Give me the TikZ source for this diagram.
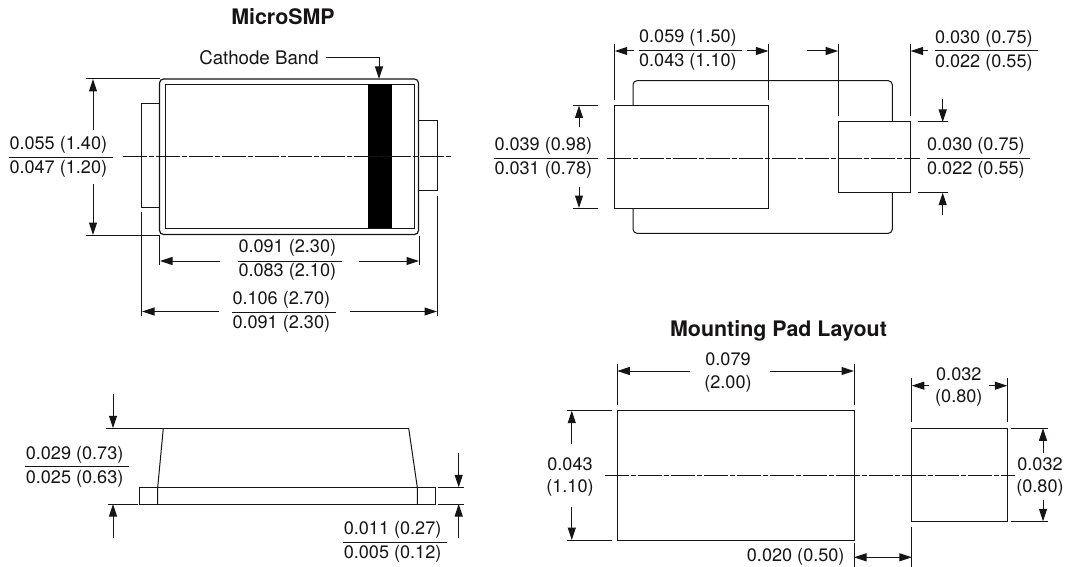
\documentclass[tikz,border=0pt]{standalone}
\usepackage{fontspec}
\setmainfont{TeX Gyre Heros}
\usetikzlibrary{arrows.meta}
\definecolor{ink}{RGB}{22,20,20}

\begin{document}
\begin{tikzpicture}[x=1pt,y=-1pt,ink,line width=1pt,>={Triangle[length=12.5pt,width=8pt]},
    dim node/.style={inner sep=0pt,font=\fontsize{18.1}{20}\selectfont},
    frac node/.style={dim node,anchor=west},
    title node/.style={inner sep=0pt,font=\fontsize{21.4}{24}\bfseries\selectfont},
    center line/.style={line width=1pt,dash pattern=on 24pt off 2pt on 5pt off 2pt}]
    \useasboundingbox (0,0) rectangle (1065,567);

    \node[title node](t1) at (283,17){MicroSMP};
    \node[title node](t2) at (778.5,331){Mounting Pad Layout};

    \node[dim node,font=\fontsize{18.7}{20}\selectfont](c1) at (259,58){Cathode Band};
    \coordinate (c2) at (379,79);
    \draw[->] (c1.east) ++(7,0) -| (c2);

    \draw[line width=1.2pt,rounded corners=4pt] (159.5,79) rectangle (418.5,234.5);
    \draw (165,84.5) rectangle (414,228);
    \fill[black] (368,84.5) rectangle (392,228);
    \draw (159.5,104) -| (141.5,207) -- (159.5,207);
    \draw (419,120.5) -| (437,190.5) -- (419,190.5);
    \draw[center line] (123,156.5) -- (453,156.5);

    \node[frac node](a1) at (9,145){0.055 (1.40)};
    \node[frac node](a2) at (9,169){0.047 (1.20)};
    \draw (9,157) -- (113,157);
    \draw (86,78.5) -- (160,78.5) (86,235) -- (160,235);
    \draw[->] (93,130) -- (93,79);
    \draw[->] (93,184) -- (93,235);

    \node[frac node](a3) at (238,248){0.091 (2.30)};
    \node[frac node](a4) at (238,272){0.083 (2.10)};
    \draw (238,261) -- (342,261);
    \draw (159.5,236) -- (159.5,265) (419,236) -- (419,265);
    \draw[->] (220,261) -- (160,261);
    \draw[->] (359,261) -- (419,261);

    \node[frac node](a5) at (232,299.5){0.106 (2.70)};
    \node[frac node](a6) at (232,323.5){0.091 (2.30)};
    \draw (232,312) -- (336,312);
    \draw (141.5,212) -- (141.5,316) (437,196) -- (437,316);
    \draw[->] (219,311.5) -- (142,311.5);
    \draw[->] (350,311.5) -- (437,311.5);

    \draw[rounded corners=4pt] (633,105.5) |- (892.3,80.7) -- (892.3,122);
    \draw[rounded corners=4pt] (633,208) |- (892.3,233.3) -- (892.3,192.7);
    \draw (614.7,105.5) rectangle (768.4,208);
    \draw (838.2,122) rectangle (910.6,192.7);
    \draw[center line] (607,158) -- (919.6,158);

    \node[frac node](b1) at (638.6,38){0.059 (1.50)};
    \node[frac node](b2) at (638.6,62){0.043 (1.10)};
    \draw (638.6,51) -- (742,51);
    \draw (614.7,44) -- (614.7,100) (768.4,44) -- (768.4,100);
    \draw (838.2,44) -- (838.2,116) (910.6,44) -- (910.6,116);
    \draw[->] (634,51) -- (614.7,51);
    \draw[->] (747,51) -- (768.4,51);
    \draw[->] (807,51) -- (838.2,51);
    \draw[->] (928,51) -- (910.6,51);

    \node[frac node](b3) at (934.5,39){0.030 (0.75)};
    \node[frac node](b4) at (934.5,63){0.022 (0.55)};
    \draw (934.5,51) -- (1037.8,51);

    \node[frac node](b5) at (494,146){0.039 (0.98)};
    \node[frac node](b6) at (494,170){0.031 (0.78)};
    \draw (494,158) -- (597.5,158);
    \draw (573,105.5) -- (597.5,105.5) (573,208) -- (597.5,208);
    \draw[->] (579,127) -- (579,105.5);
    \draw[->] (579,187) -- (579,208);

    \node[frac node](b7) at (926.6,146){0.030 (0.75)};
    \node[frac node](b8) at (926.6,170){0.022 (0.55)};
    \draw (926.6,158) -- (1030,158);
    \draw (918.4,122) -- (948,122) (918.4,192.7) -- (948,192.7);
    \draw[->] (942.7,99) -- (942.7,122);
    \draw[->] (942.7,215) -- (942.7,192.7);

    \draw (139.7,487.3) rectangle (435.3,504);
    \draw (157.7,504) -- (157.7,487.3) -- (163.3,428.3);
    \draw (417.3,504) -- (417.3,487.3) -- (408.7,428.3);
    \draw (106,428.3) -- (408.7,428.3);
    \draw (108,504) -- (137.5,504);
    \draw[->] (113,394) -- (113,428.3);
    \draw[->] (113,538) -- (113,504);

    \node[frac node](d1) at (25.3,455){0.029 (0.73)};
    \node[frac node](d2) at (25.3,479){0.025 (0.63)};
    \draw (25.3,466.7) -- (128.7,466.7);

    \draw (437.7,487.3) -- (464,487.3) (437.7,504) -- (464,504);
    \draw[->] (458.7,452.7) -- (458.7,487.3);
    \draw[->] (458.7,538) -- (458.7,504);

    \node[frac node](d3) at (343.3,529.5){0.011 (0.27)};
    \node[frac node](d4) at (343.3,554){0.005 (0.12)};
    \draw (343.3,542) -- (446.7,542);

    \draw (617.3,410.7) rectangle (854,540);
    \draw (911.8,428.3) rectangle (1007.4,521.3);
    \draw[center line] (604.7,475) -- (1014.6,475);

    \node[dim node](e1) at (728,359.5){0.079};
    \node[dim node](e2) at (728,384){(2.00)};
    \draw (617.3,364) -- (617.3,405) (854,364) -- (854,405);
    \draw[->] (690.3,371) -- (617.3,371);
    \draw[->] (769.7,371) -- (854,371);

    \node[dim node](e3) at (958.8,374){0.032};
    \node[dim node](e4) at (958.8,398){(0.80)};
    \draw (911.8,378) -- (911.8,422) (1007.4,378) -- (1007.4,422);
    \draw[->] (929,385.7) -- (911.8,385.7);
    \draw[->] (989,385.7) -- (1007.4,385.7);

    \node[dim node](e5) at (570,464){0.043};
    \node[dim node](e6) at (570,488){(1.10)};
    \draw (567,410.7) -- (612,410.7) (567,540) -- (612,540);
    \draw[->] (571.8,444.3) -- (571.8,410.7);
    \draw[->] (571.8,506.7) -- (571.8,540);

    \node[dim node](e7) at (1040,464.7){0.032};
    \node[dim node](e8) at (1040,488){(0.80)};
    \draw (1011,428.3) -- (1048,428.3) (1011,521.3) -- (1048,521.3);
    \draw[->] (1043,453.3) -- (1043,428.3);
    \draw[->] (1043,500) -- (1043,521.3);

    \node[dim node,anchor=east](e9) at (845,557){0.020 (0.50)};
    \draw (854,543) -- (854,567) (911.8,526.7) -- (911.8,567);
    \draw[<->] (854,557.3) -- (911.8,557.3);
\end{tikzpicture}
\end{document}
